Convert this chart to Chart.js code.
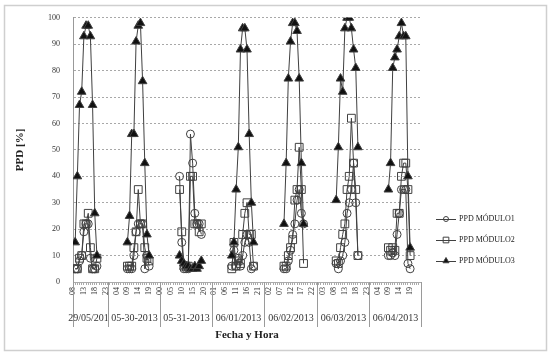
<!DOCTYPE html>
<html>
<head>
<meta charset="utf-8">
<script src="https://cdn.jsdelivr.net/npm/chart.js@4.4.0/dist/chart.umd.min.js"></script>
<style>
  body { margin: 0; background: #fff; }
  #wrap { position: absolute; left: 0; top: 0; width: 551px; height: 355px; }
</style>
</head>
<body>
<div id="wrap"><canvas id="ppd" width="551" height="355"></canvas></div>
<script>
// one group of readings per day, clock hour of each reading
const dias = ["29/05/2013", "05-30-2013", "05-31-2013", "06/01/2013", "06/02/2013", "06/03/2013", "06/04/2013"];
const horas = [
    [9, 10, 11, 12, 13, 14, 15, 16, 17, 18, 19],
    [9, 10, 11, 12, 13, 14, 15, 16, 17, 18, 19],
    [9, 10, 11, 12, 13, 14, 15, 16, 17, 18, 19],
    [9, 10, 11, 12, 13, 14, 15, 16, 17, 18, 19],
    [9, 10, 11, 12, 13, 14, 15, 16, 17, 18],
    [9, 10, 11, 12, 13, 14, 15, 16, 17, 18, 19],
    [9, 10, 11, 12, 13, 14, 15, 16, 17, 18, 19],
];

const modulo1 = [
    [5, 5, 8, 10, 19, 22, 22, 9, 5, 5, 6],
    [5, 5, 5, 10, 19, 22, 22, 22, 5, 10, 6],
    [40, 15, 5, 5, 5, 56, 45, 26, 22, 22, 18],
    [6, 12, 6, 9, 6, 10, 15, 18, 15, 5, 6],
    [5, 5, 8, 12, 18, 22, 31, 35, 26, 22],
    [7, 5, 8, 10, 15, 26, 30, 35, 45, 30, 10],
    [10, 10, 11, 10, 18, 26, 35, 35, 35, 7, 5],
];
const modulo2 = [
    [5, 5, 9, 10, 22, 22, 26, 13, 5, 5, 9],
    [6, 6, 6, 13, 19, 35, 22, 22, 13, 9, 8],
    [35, 19, 6, 6, 6, 40, 40, 22, 22, 19, 22],
    [5, 15, 6, 8, 7, 18, 26, 30, 18, 18, 6],
    [6, 6, 10, 13, 16, 31, 35, 51, 35, 7],
    [8, 7, 13, 18, 22, 35, 40, 62, 45, 35, 10],
    [13, 12, 13, 12, 26, 26, 40, 45, 45, 35, 10],
];
const modulo3 = [
    [15, 40, 67, 72, 93, 97, 97, 93, 67, 26, 10],
    [15, 25, 56, 56, 91, 97, 98, 76, 45, 18, 10],
    [10, 8, 7, 6, 6, 5, 5, 6, 5, 6, 8],
    [10, 15, 35, 51, 88, 96, 96, 88, 56, 30, 15],
    [22, 45, 77, 91, 98, 98, 95, 77, 45, 22],
    [31, 51, 77, 72, 96, 100, 100, 96, 88, 81, 51],
    [35, 45, 81, 85, 88, 93, 98, 93, 93, 40, 13],
];

const primeraHora = 8; // axis starts 29/05 08:00
const ultimaHora = dias.length * 24;

// x = hours since 29/05 00:00, null between days so lines break
const toPoints = (serie) => {
    const pts = [];
    serie.forEach((vals, d) => {
        vals.forEach((v, i) => pts.push({ x: d * 24 + horas[d][i], y: v }));
        pts.push({ x: d * 24 + 23, y: null });
    });
    return pts;
};

const serif = "'Liberation Serif', 'DejaVu Serif', serif";
const lineColor = "#404040";

const series = [
    { label: "PPD MÓDULO1", data: toPoints(modulo1), pointStyle: "circle", pointRadius: 4, pointBackgroundColor: "rgba(0,0,0,0)", order: 3 },
    { label: "PPD MÓDULO2", data: toPoints(modulo2), pointStyle: "rect", pointRadius: 5.5, pointBackgroundColor: "rgba(0,0,0,0)", order: 2 },
    { label: "PPD MÓDULO3", data: toPoints(modulo3), pointStyle: "triangle", pointRadius: 5, pointBackgroundColor: "#111", order: 1 },
];

const extras = {
    id: "extras",
    afterDraw(chart) {
        const { ctx } = chart;
        const x = chart.scales.x;
        const top = x.top;
        ctx.save();

        // day separators and date labels under the hour ticks
        ctx.strokeStyle = "#9a9a9a";
        ctx.lineWidth = 1;
        ctx.font = "10px " + serif;
        ctx.fillStyle = "#333";
        ctx.textAlign = "center";
        ctx.textBaseline = "middle";
        dias.forEach((dia, i) => {
            const pa = Math.round(x.getPixelForValue(Math.max(primeraHora, i * 24))) + 0.5;
            const pb = Math.round(x.getPixelForValue((i + 1) * 24)) + 0.5;
            ctx.beginPath();
            ctx.moveTo(pa, top);
            ctx.lineTo(pa, top + 45);
            if (i === dias.length - 1) {
                ctx.moveTo(pb, top);
                ctx.lineTo(pb, top + 45);
            }
            ctx.stroke();
            ctx.save();
            ctx.beginPath();
            ctx.rect(pa - 8, top, pb - pa + 7, 45);
            ctx.clip();
            ctx.fillText(dia, (pa + pb) / 2, top + 36);
            ctx.restore();
        });

        // legend: line with marker
        const lx = chart.chartArea.right + 15;
        const ly = 219;
        ctx.font = "8px " + serif;
        ctx.textAlign = "left";
        ctx.fillStyle = "#222";
        series.forEach((s, i) => {
            const y = ly + i * 21;
            ctx.strokeStyle = lineColor;
            ctx.lineWidth = 1;
            ctx.beginPath();
            ctx.moveTo(lx, y + 0.5);
            ctx.lineTo(lx + 20, y + 0.5);
            ctx.stroke();
            ctx.fillStyle = s.pointBackgroundColor;
            Chart.helpers.drawPoint(ctx, { pointStyle: s.pointStyle, radius: s.pointRadius - 1.5, rotation: 0, borderWidth: 1 }, lx + 10, y);
            ctx.fillStyle = "#222";
            ctx.fillText(s.label, lx + 23, y);
        });

        // outer frame
        ctx.strokeStyle = "#cfcfcf";
        ctx.lineWidth = 1.5;
        ctx.strokeRect(4.5, 5.5, 542, 345);
        ctx.restore();
    },
};

new Chart(document.getElementById("ppd").getContext("2d"), {
    type: "line",
    data: {
        datasets: series.map((s) => ({
            ...s,
            borderColor: lineColor,
            borderWidth: 1,
            pointBorderColor: lineColor,
            pointBorderWidth: 1,
            spanGaps: false,
            tension: 0,
        })),
    },
    options: {
        responsive: false,
        animation: false,
        devicePixelRatio: 1,
        layout: { padding: { top: 17, right: 130, bottom: 9, left: 10 } },
        plugins: { legend: { display: false }, tooltip: { enabled: false } },
        scales: {
            x: {
                type: "linear",
                min: primeraHora,
                max: ultimaHora,
                afterFit: (s) => { s.height = 64; },
                grid: { drawOnChartArea: false, drawTicks: true, tickLength: 3, color: "#aaa" },
                border: { color: "#aaa" },
                ticks: {
                    stepSize: 1,
                    autoSkip: false,
                    minRotation: 90,
                    maxRotation: 90,
                    padding: 2,
                    color: "#333",
                    font: { family: serif, size: 8 },
                    callback: (v) => ((v - primeraHora) % 5 === 0 && v < ultimaHora) ? String(v % 24).padStart(2, "0") : "",
                },
                title: { display: true, text: "Fecha y Hora", color: "#222", font: { family: serif, size: 11, weight: "bold" }, padding: { top: 0, bottom: 4 } },
            },
            y: {
                min: 0,
                max: 100,
                afterFit: (s) => { s.width = 63; },
                grid: { color: "#a8a8a8", drawTicks: false },
                border: { color: "#999", dash: [2, 2] },
                ticks: { stepSize: 10, padding: 13, color: "#333", font: { family: serif, size: 8 } },
                title: { display: true, text: "PPD [%]", color: "#222", font: { family: serif, size: 11, weight: "bold" } },
            },
        },
    },
    plugins: [extras],
});
</script>
</body>
</html>
